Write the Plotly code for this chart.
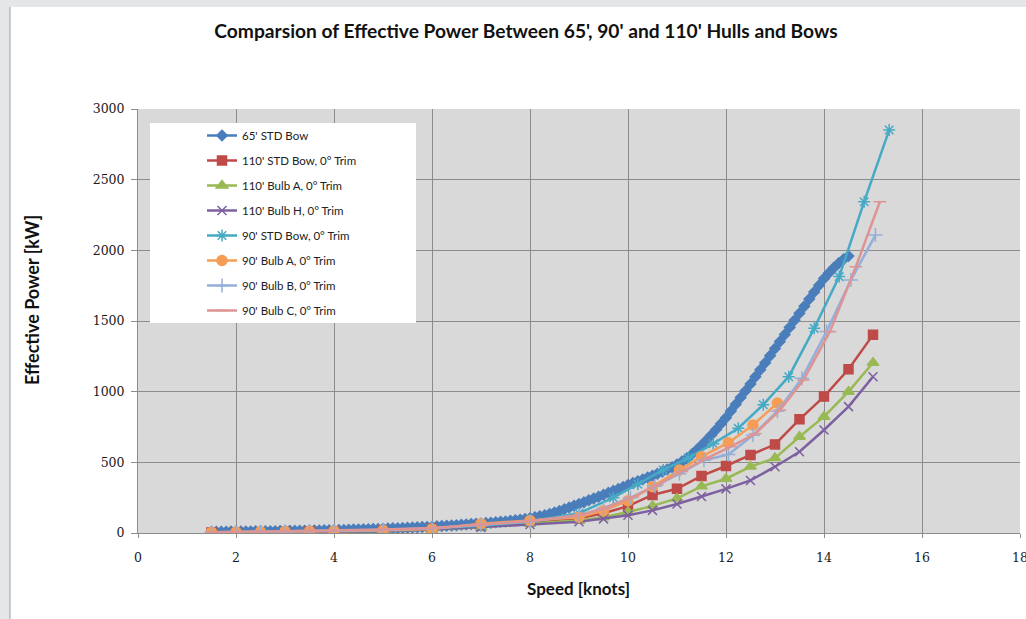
import plotly.graph_objects as go

# ---------------- data ----------------
speed_65_std = [1.5, 1.6, 1.7, 1.8, 1.9, 2.0, 2.1, 2.2, 2.3, 2.4,
                2.5, 2.6, 2.7, 2.8, 2.9, 3.0, 3.1, 3.2, 3.3, 3.4,
                3.5, 3.6, 3.7, 3.8, 3.9, 4.0, 4.1, 4.2, 4.3, 4.4,
                4.5, 4.6, 4.7, 4.8, 4.9, 5.0, 5.1, 5.2, 5.3, 5.4,
                5.5, 5.6, 5.7, 5.8, 5.9, 6.0, 6.1, 6.2, 6.3, 6.4,
                6.5, 6.6, 6.7, 6.8, 6.9, 7.0, 7.1, 7.2, 7.3, 7.4,
                7.5, 7.6, 7.7, 7.8, 7.9, 8.0, 8.1, 8.2, 8.3, 8.4,
                8.5, 8.6, 8.7, 8.8, 8.9, 9.0, 9.1, 9.2, 9.3, 9.4,
                9.5, 9.6, 9.7, 9.8, 9.9, 10.0, 10.1, 10.2, 10.3, 10.4,
                10.5, 10.6, 10.7, 10.8, 10.9, 11.0, 11.1, 11.2, 11.3, 11.4,
                11.5, 11.6, 11.7, 11.8, 11.9, 12.0, 12.1, 12.2, 12.3, 12.4,
                12.5, 12.6, 12.7, 12.8, 12.9, 13.0, 13.1, 13.2, 13.3, 13.4,
                13.5, 13.6, 13.7, 13.8, 13.9, 14.0, 14.1, 14.2, 14.3, 14.4,
                14.5]
power_65_std = [8, 8, 9, 9, 10, 10, 10, 11, 11, 12,
                12, 12, 13, 13, 14, 14, 15, 15, 16, 16,
                17, 17, 18, 19, 19, 20, 21, 22, 23, 24,
                25, 26, 27, 28, 29, 30, 31, 33, 34, 36,
                37, 39, 40, 42, 43, 45, 47, 49, 51, 53,
                55, 58, 60, 63, 65, 68, 71, 73, 76, 79,
                82, 86, 90, 94, 99, 104, 111, 118, 126, 135,
                145, 156, 168, 180, 192, 205, 218, 231, 244, 257,
                270, 284, 298, 312, 326, 340, 353, 366, 379, 392,
                405, 419, 434, 450, 466, 484, 505, 528, 556, 587,
                620, 656, 694, 733, 774, 815, 863, 911, 959, 1007,
                1055, 1105, 1155, 1205, 1255, 1305, 1355, 1405, 1455, 1505,
                1555, 1605, 1655, 1705, 1753, 1800, 1840, 1877, 1909, 1937,
                1960]

speed_110 = [1.5, 2, 2.5, 3, 3.5, 4, 5, 6, 7, 8, 9, 9.5, 10,
             10.5, 11, 11.5, 12, 12.5, 13, 13.5, 14, 14.5, 15]
power_110_std = [3, 4, 6, 8, 10, 13, 20, 32, 52, 80, 105, 140, 190,
                 269, 313, 404, 474, 552, 627, 804, 965, 1158, 1402]
power_110_bulb_a = [2, 3, 4, 5, 7, 9, 14, 24, 40, 68, 88, 112, 148,
                    192, 245, 330, 384, 470, 530, 681, 823, 1000, 1205]
power_110_bulb_h = [2, 3, 4, 5, 7, 9, 14, 25, 40, 60, 80, 100, 125,
                    160, 205, 258, 312, 372, 469, 575, 729, 894, 1106]

speed_90_std = [1.5, 2, 2.5, 3, 3.5, 4, 5, 6, 7, 8, 9, 9.7, 10.2,
                10.72, 11.23, 11.74, 12.25, 12.76, 13.28, 13.8, 14.31, 14.82, 15.33]
power_90_std = [5, 7, 9, 11, 13, 16, 22, 34, 52, 82, 140, 250, 345,
                446, 530, 632, 741, 908, 1106, 1448, 1814, 2344, 2851]

speed_90_bulb_a = [1.5, 2, 2.5, 3, 3.5, 4, 5, 6, 7, 8, 9, 9.5, 10,
                   10.5, 11.05, 11.5, 12.05, 12.55, 13.05]
power_90_bulb_a = [4, 6, 8, 10, 12, 13, 17, 28, 66, 88, 112, 158, 228,
                   328, 446, 540, 639, 764, 920]

speed_90_bulb_b = [1.5, 2, 2.5, 3, 3.5, 4, 5, 6, 7, 8, 9, 9.5, 10.05,
                   10.55, 11.05, 11.55, 12.05, 12.55, 13.05, 13.55, 14.05, 14.55, 15.05]
power_90_bulb_b = [4, 6, 8, 10, 12, 15, 21, 33, 55, 82, 125, 175, 250,
                   330, 420, 515, 555, 692, 862, 1095, 1425, 1790, 2108]

speed_90_bulb_c = [1.5, 2, 2.5, 3, 3.5, 4, 5, 6, 7, 8, 9, 9.5, 10.1,
                   10.6, 11.1, 11.6, 12.1, 12.6, 13.1, 13.58, 14.12, 14.65, 15.14]
power_90_bulb_c = [5, 7, 9, 11, 14, 17, 24, 36, 58, 85, 125, 172, 255,
                   340, 435, 528, 611, 703, 870, 1082, 1425, 1884, 2344]

series_names = ["65' STD Bow", "110' STD Bow, 0° Trim", "110' Bulb A, 0° Trim",
                "110' Bulb H, 0° Trim", "90' STD Bow, 0° Trim", "90' Bulb A, 0° Trim",
                "90' Bulb B, 0° Trim", "90' Bulb C, 0° Trim"]

x_ticks = [0, 2, 4, 6, 8, 10, 12, 14, 16, 18]
y_ticks = [0, 500, 1000, 1500, 2000, 2500, 3000]

title_text = "Comparsion of Effective Power Between 65', 90' and 110' Hulls and Bows"
x_title = "Speed [knots]"
y_title = "Effective Power [kW]"

# ---------------- styling ----------------
styles = [
    dict(color="#4A7EBB", symbol="diamond", size=8),
    dict(color="#BE4B48", symbol="square", size=9),
    dict(color="#98B954", symbol="triangle-up", size=10),
    dict(color="#7D60A0", symbol="x-thin-open", size=9),
    dict(color="#46AAC5", symbol="asterisk-open", size=10),
    dict(color="#F59D56", symbol="circle", size=10),
    dict(color="#94AFDA", symbol="cross-thin-open", size=10),
    dict(color="#DD9493", symbol="line-ew-open", size=9),
]
data = [
    (speed_65_std, power_65_std),
    (speed_110, power_110_std),
    (speed_110, power_110_bulb_a),
    (speed_110, power_110_bulb_h),
    (speed_90_std, power_90_std),
    (speed_90_bulb_a, power_90_bulb_a),
    (speed_90_bulb_b, power_90_bulb_b),
    (speed_90_bulb_c, power_90_bulb_c),
]

fig = go.Figure()
for i, ((xs, ys), st, name) in enumerate(zip(data, styles, series_names)):
    fig.add_trace(go.Scatter(
        x=xs, y=ys, name=name, mode="lines+markers",
        legendgroup=f"g{i}",
        line=dict(color=st["color"], width=2.5),
        marker=dict(symbol=st["symbol"], size=st["size"], color=st["color"],
                    line=dict(color=st["color"], width=1.5)),
    ))

W, H = 1026, 619
L, R, T, B = 138, 6, 109, 86
pw, ph = W - L - R, H - T - B

def px(xp):
    return (xp - L) / pw

def py(yp):
    return (H - B - yp) / ph

axis_font = dict(family="DejaVu Serif", size=12.5, color="#1A1A1A")

fig.update_layout(
    width=W, height=H,
    margin=dict(l=L, r=R, t=T, b=B, autoexpand=False),
    paper_bgcolor="white",
    plot_bgcolor="#D9D9D9",
    title=dict(text=title_text, x=526 / W, xanchor="center", y=1 - 31 / H, yanchor="middle",
               font=dict(family="Lato", size=19.2, color="#111111", weight="bold")),
    xaxis=dict(range=[0, 18], tickvals=x_ticks, showgrid=True, gridcolor="#8C8C8C", gridwidth=1,
               zeroline=False, showline=True, linecolor="#8C8C8C", linewidth=1,
               ticks="outside", ticklen=4, tickcolor="#8C8C8C", tickfont=axis_font,
               ticklabelstandoff=9, ticklabeloverflow="allow", automargin=False),
    yaxis=dict(range=[0, 3000], tickvals=y_ticks, showgrid=True, gridcolor="#8C8C8C", gridwidth=1,
               zeroline=False, showline=True, linecolor="#8C8C8C", linewidth=1,
               ticks="outside", ticklen=6, tickcolor="#8C8C8C", tickfont=axis_font,
               ticklabelstandoff=4, automargin=False),
    legend=dict(x=px(202), y=py(121), xanchor="left", yanchor="top",
                bgcolor="rgba(0,0,0,0)", borderwidth=0,
                font=dict(family="Lato", size=11.5, color="#222222"),
                tracegroupgap=6, traceorder="grouped"),
    annotations=[
        dict(text=x_title, x=px(578), y=py(588), xref="paper", yref="paper",
             showarrow=False, xanchor="center", yanchor="middle",
             font=dict(family="Lato", size=17, color="#111111", weight="bold")),
        dict(text=y_title, x=px(32), y=py(300), xref="paper", yref="paper",
             showarrow=False, xanchor="center", yanchor="middle", textangle=-90,
             font=dict(family="Lato", size=18, color="#111111", weight="bold")),
    ],
    shapes=[
        # legend box
        dict(type="rect", xref="paper", yref="paper", x0=px(150), x1=px(416),
             y0=py(323), y1=py(123), fillcolor="white", line=dict(width=0), layer="above"),
        # surrounding screenshot background
        dict(type="rect", xref="paper", yref="paper", x0=px(0), x1=px(10),
             y0=py(H), y1=py(0), fillcolor="#E4E6E8", line=dict(width=0), layer="below"),
        dict(type="rect", xref="paper", yref="paper", x0=px(0), x1=px(W),
             y0=py(7), y1=py(0), fillcolor="#E4E6E8", line=dict(width=0), layer="below"),
        dict(type="line", xref="paper", yref="paper", x0=px(10), x1=px(10),
             y0=py(H), y1=py(7), line=dict(color="#A0A0A0", width=1)),
    ],
)

fig.write_html("out.html", config={"displayModeBar": False},
               post_script="document.body.style.margin='0';")
